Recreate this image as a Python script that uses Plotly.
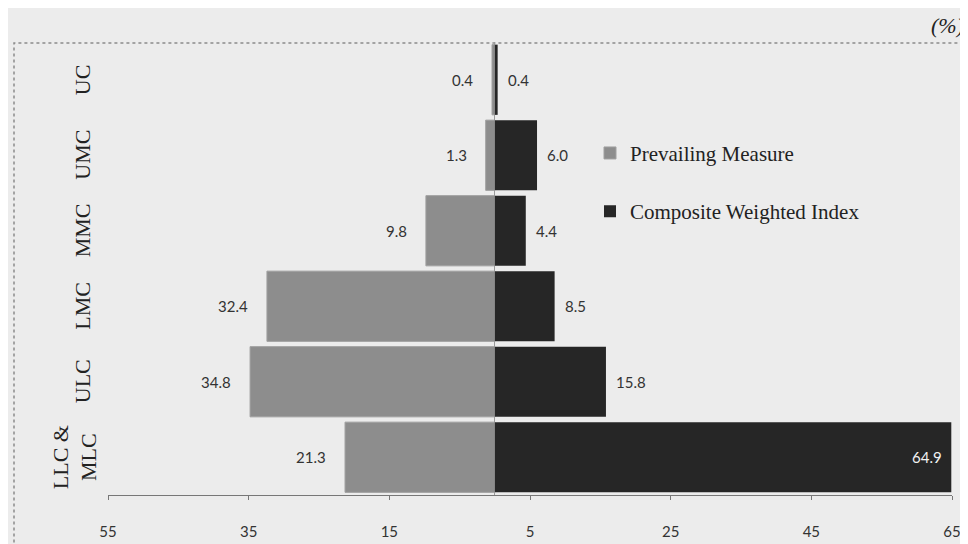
import plotly.graph_objects as go

categories = ["LLC &<br>MLC", "ULC", "LMC", "MMC", "UMC", "UC"]
prevailing = [21.3, 34.8, 32.4, 9.8, 1.3, 0.4]
composite = [64.9, 15.8, 8.5, 4.4, 6.0, 0.4]
tick_vals = [-55, -35, -15, 5, 25, 45, 65]
tick_text = ["55", "35", "15", "5", "25", "45", "65"]

serif = "Liberation Serif, Times New Roman, serif"
sans = "Lato, Open Sans, sans-serif"

# plot area in figure pixels
L, R, T, B = 100, 944, 34, 493


def px(x):
    return (x - L) / (R - L)


def py(y):
    return (B - y) / (B - T)


fig = go.Figure()
fig.add_trace(go.Bar(
    y=categories, x=[-v for v in prevailing], orientation="h",
    name="Prevailing Measure", legendgroup="a",
    marker=dict(color="#8d8d8d", line=dict(color="#a0a0a0", width=1)),
    hoverinfo="skip",
))
fig.add_trace(go.Bar(
    y=categories, x=composite, orientation="h",
    name="Composite Weighted Index", legendgroup="b",
    marker=dict(color="#262626", line=dict(width=0)),
    hoverinfo="skip",
))

ann = []
# value labels
for c, v in zip(categories, prevailing):
    ann.append(dict(x=-v, y=c, xref="x", yref="y", text=f"{v:.1f}", showarrow=False,
                    xanchor="right", xshift=-17, font=dict(family=sans, size=15, color="#333")))
for c, v in zip(categories, composite):
    inside = v > 50
    ann.append(dict(x=v, y=c, xref="x", yref="y", text=f"{v:.1f}", showarrow=False,
                    xanchor="right" if inside else "left", xshift=-7 if inside else 8,
                    font=dict(family=sans, size=15, color="#f2f2f2" if inside else "#333")))
# category labels (rotated)
for c in categories:
    ann.append(dict(x=px(38 if "<br>" in c else 60), y=c, xref="paper", yref="y",
                    text=c, showarrow=False, textangle=-90,
                    font=dict(family=serif, size=22, color="#222")))
ann.append(dict(x=px(958), y=py(17), xref="paper", yref="paper",
                text="<i>(%)</i>", showarrow=False, xanchor="right", yanchor="middle",
                font=dict(family=serif, size=22, color="#222")))

fig.update_layout(
    width=968, height=544,
    margin=dict(l=L, r=968 - R, t=T, b=544 - B),
    paper_bgcolor="#ececec", plot_bgcolor="#ececec",
    barmode="relative", bargap=0.07,
    showlegend=True,
    legend=dict(x=px(582), y=py(126), xanchor="left", yanchor="top",
                bgcolor="rgba(0,0,0,0)", tracegroupgap=28,
                font=dict(family=serif, size=21, color="#222")),
    annotations=ann,
    shapes=[dict(type="rect", xref="paper", yref="paper",
                 x0=px(6), x1=1.1, y0=-0.2, y1=py(35),
                 line=dict(color="#8a8a8a", width=1.5, dash="dot"), layer="below")],
)
fig.update_xaxes(range=[-55, 65], tickvals=tick_vals, ticktext=tick_text,
                 showgrid=False, zeroline=True, zerolinecolor="#999", zerolinewidth=1,
                 showline=True, linecolor="#777", linewidth=1,
                 ticks="outside", ticklen=4, tickcolor="#777", ticklabelstandoff=19,
                 tickfont=dict(family=sans, size=15, color="#333"))
fig.update_yaxes(showticklabels=False, showgrid=False, zeroline=False, showline=False)

fig.write_html("out.html")
